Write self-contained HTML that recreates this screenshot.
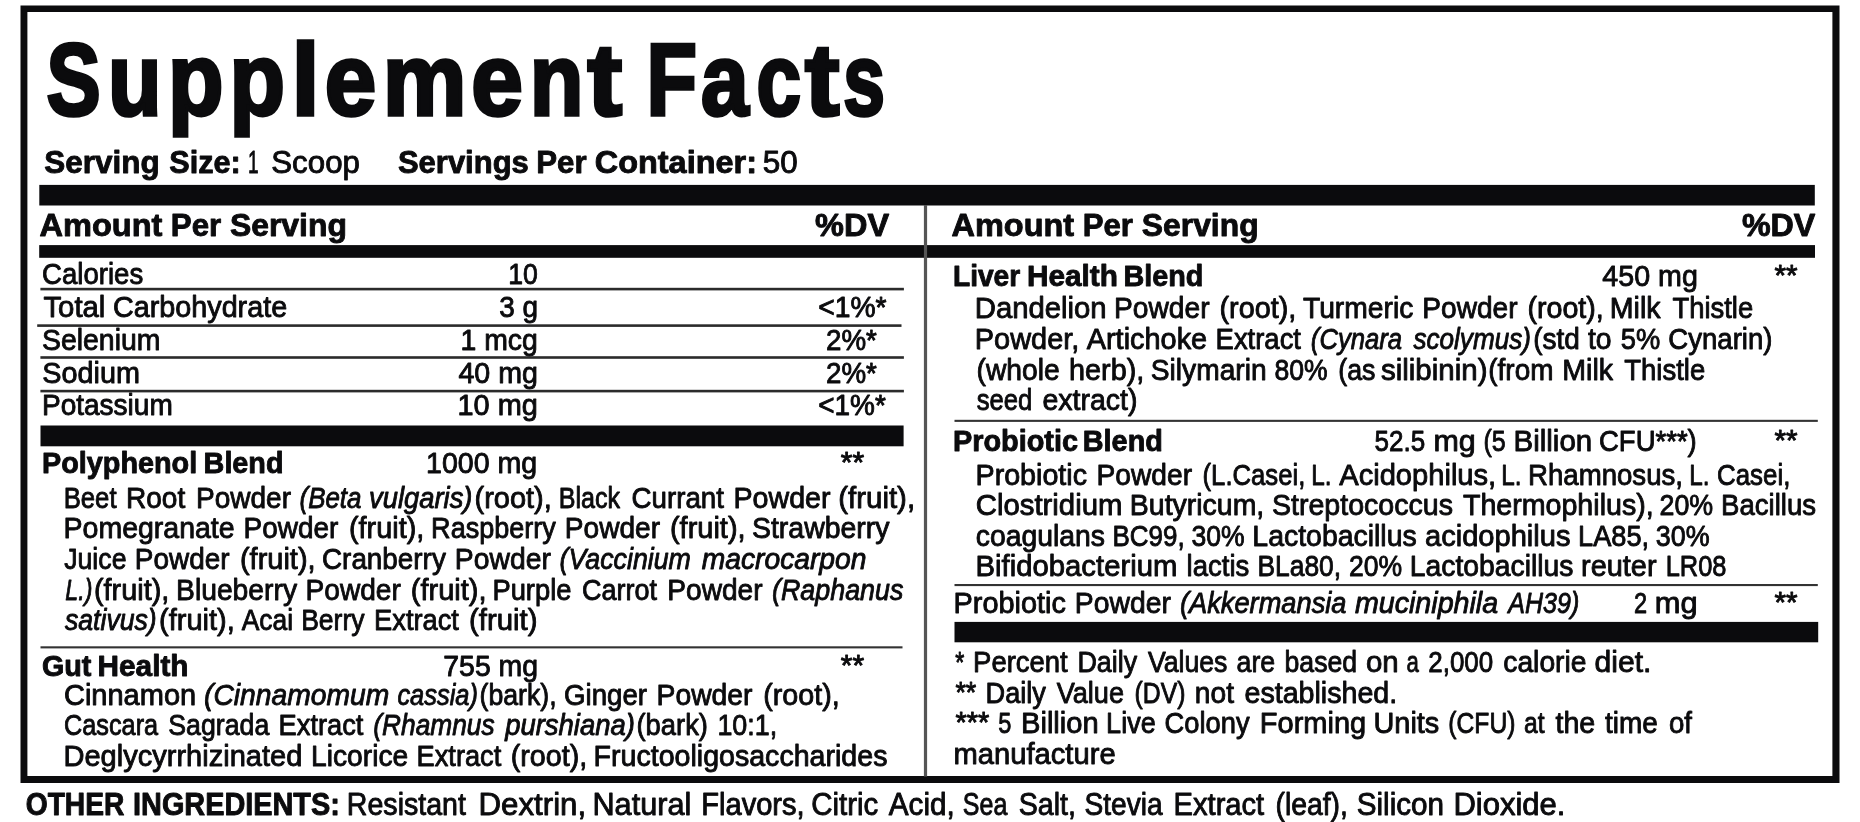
<!DOCTYPE html>
<html lang="en">
<head>
<meta charset="utf-8">
<title>Supplement Facts</title>
<style>
html,body{margin:0;padding:0;background:#fff;}
body{width:1860px;height:822px;overflow:hidden;font-family:"Liberation Sans",sans-serif;}
svg{display:block;will-change:transform;filter:blur(0.45px);}
svg text{font-family:"Liberation Sans",sans-serif;fill:#0b0b0d;stroke:#0b0b0d;white-space:pre;}
svg g{stroke-width:0.9px;stroke-linejoin:round;}
svg path{fill:#0b0b0d;}
svg rect{fill:#0b0b0d;}
</style>
</head>
<body>
<svg width="1860" height="822" viewBox="0 0 1860 822" role="img" aria-label="Supplement Facts label">
<g id="rules">
<path fill-rule="evenodd" d="M20.5 5.4H1839.5V783H20.5Z M27.4 12.1H1832.4V776H27.4Z"/>
<rect x="39.3" y="184.9" width="1775.50" height="20.60"/>
<rect x="39.2" y="245.1" width="1775.80" height="12.70"/>
<rect x="40.5" y="425.5" width="863.10" height="20.80"/>
<rect x="954.5" y="621.9" width="863.70" height="20.40"/>
<rect style="fill:#555" x="923.9" y="205" width="3.20" height="571.50"/>
<rect style="fill:#2b2b2b" x="40.4" y="287.8" width="863.50" height="2.60"/>
<rect style="fill:#2b2b2b" x="37.2" y="324.3" width="864.30" height="2.60"/>
<rect style="fill:#2b2b2b" x="40.4" y="356.2" width="863.50" height="2.60"/>
<rect style="fill:#2b2b2b" x="40.4" y="389.8" width="863.50" height="2.60"/>
<rect style="fill:#333" x="40.5" y="646.3" width="862.00" height="2.10"/>
<rect style="fill:#333" x="954.5" y="419.8" width="863.30" height="2.10"/>
<rect style="fill:#333" x="954.5" y="584" width="863.30" height="2.10"/>
</g>
<g id="copy">
<g font-size="102.8" font-weight="bold" style="stroke-width:3.6px;stroke-linejoin:miter">
<text transform="translate(46.54 115.20) scale(0.7898 1)">S</text>
<text transform="translate(108.12 115.20) scale(0.8535 1)">u</text>
<text transform="translate(167.99 115.20) scale(0.8834 1)">p</text>
<text transform="translate(229.59 115.20) scale(0.8834 1)">p</text>
<text transform="translate(291.58 115.20) scale(0.9839 1)">l</text>
<text transform="translate(324.72 115.20) scale(0.9011 1)">e</text>
<text transform="translate(382.85 115.20) scale(0.9163 1)">m</text>
<text transform="translate(471.31 115.20) scale(0.9030 1)">e</text>
<text transform="translate(529.71 115.20) scale(0.8553 1)">n</text>
<text transform="translate(587.51 115.20) scale(1.0112 1)">t</text>
<text transform="translate(646.62 115.20) scale(0.8038 1)">F</text>
<text transform="translate(701.00 115.20) scale(0.8328 1)">a</text>
<text transform="translate(756.59 115.20) scale(0.7784 1)">c</text>
<text transform="translate(805.00 115.20) scale(1.0056 1)">t</text>
<text transform="translate(843.32 115.20) scale(0.7295 1)">s</text>
</g>
<g font-size="32" font-weight="bold">
<text transform="translate(44.34 172.70) scale(0.9826 1)">Serving</text>
<text transform="translate(169.23 172.70) scale(0.9571 1)">Size:</text>
<text transform="translate(397.94 172.70) scale(0.9684 1)">Servings</text>
<text transform="translate(536.29 172.70) scale(0.9752 1)">Per</text>
<text transform="translate(594.74 172.70) scale(1.0143 1)">Container:</text>
<text transform="translate(39.46 236.10) scale(1.0180 1)">Amount</text>
<text transform="translate(170.79 236.10) scale(0.9772 1)">Per</text>
<text transform="translate(229.95 236.10) scale(0.9963 1)">Serving</text>
<text transform="translate(815.06 236.10) scale(1.0153 1)">%DV</text>
<text transform="translate(951.56 236.10) scale(1.0147 1)">Amount</text>
<text transform="translate(1082.79 236.10) scale(0.9732 1)">Per</text>
<text transform="translate(1141.85 236.10) scale(0.9946 1)">Serving</text>
<text transform="translate(1741.95 236.10) scale(1.0072 1)">%DV</text>
</g>
<g font-size="32">
<text transform="translate(247.97 172.70) scale(0.5975 1)">1</text>
<text transform="translate(271.26 172.70) scale(0.9773 1)">Scoop</text>
<text transform="translate(762.66 172.70) scale(0.9828 1)">50</text>
</g>
<g font-size="30">
<text transform="translate(41.99 284.00) scale(0.9198 1)">Calories</text>
<text transform="translate(508.13 284.00) scale(0.8865 1)">10</text>
<text transform="translate(43.44 316.50) scale(0.9776 1)">Total</text>
<text transform="translate(113.07 316.50) scale(0.9581 1)">Carbohydrate</text>
<text transform="translate(499.29 316.50) scale(0.9319 1)">3 g</text>
<text transform="translate(818.18 316.50) scale(0.9426 1)">&lt;1%*</text>
<text transform="translate(41.98 349.80) scale(0.9477 1)">Selenium</text>
<text transform="translate(460.53 349.80) scale(0.9467 1)">1 mcg</text>
<text transform="translate(825.99 349.80) scale(0.9247 1)">2%*</text>
<text transform="translate(42.27 382.70) scale(0.9610 1)">Sodium</text>
<text transform="translate(458.43 382.70) scale(0.9528 1)">40 mg</text>
<text transform="translate(825.99 382.70) scale(0.9247 1)">2%*</text>
<text transform="translate(41.95 415.00) scale(0.9343 1)">Potassium</text>
<text transform="translate(457.51 415.00) scale(0.9641 1)">10 mg</text>
<text transform="translate(818.19 415.00) scale(0.9316 1)">&lt;1%*</text>
<text transform="translate(426.02 472.80) scale(0.9521 1)">1000 mg</text>
<text transform="translate(63.67 507.70) scale(0.8567 1)">Beet</text>
<text transform="translate(126.05 507.70) scale(0.9343 1)">Root</text>
<text transform="translate(196.05 507.70) scale(0.9341 1)">Powder</text>
<text transform="translate(474.47 507.70) scale(0.9668 1)">(root),</text>
<text transform="translate(558.70 507.70) scale(0.8368 1)">Black</text>
<text transform="translate(631.49 507.70) scale(0.9245 1)">Currant</text>
<text transform="translate(733.52 507.70) scale(0.9540 1)">Powder</text>
<text transform="translate(838.16 507.70) scale(0.9830 1)">(fruit),</text>
<text transform="translate(63.53 538.20) scale(0.9505 1)">Pomegranate</text>
<text transform="translate(243.56 538.20) scale(0.9321 1)">Powder</text>
<text transform="translate(348.97 538.20) scale(0.9619 1)">(fruit),</text>
<text transform="translate(431.10 538.20) scale(0.9018 1)">Raspberry</text>
<text transform="translate(564.85 538.20) scale(0.9361 1)">Powder</text>
<text transform="translate(669.97 538.20) scale(0.9659 1)">(fruit),</text>
<text transform="translate(751.98 538.20) scale(0.9487 1)">Strawberry</text>
<text transform="translate(64.20 568.70) scale(0.8897 1)">Juice</text>
<text transform="translate(134.86 568.70) scale(0.9311 1)">Powder</text>
<text transform="translate(239.97 568.70) scale(0.9659 1)">(fruit),</text>
<text transform="translate(321.99 568.70) scale(0.9289 1)">Cranberry</text>
<text transform="translate(454.84 568.70) scale(0.9441 1)">Powder</text>
<text transform="translate(93.97 599.50) scale(0.9619 1)">(fruit),</text>
<text transform="translate(176.04 599.50) scale(0.9427 1)">Blueberry</text>
<text transform="translate(305.55 599.50) scale(0.9371 1)">Powder</text>
<text transform="translate(410.77 599.50) scale(0.9685 1)">(fruit),</text>
<text transform="translate(492.39 599.50) scale(0.9125 1)">Purple</text>
<text transform="translate(582.01 599.50) scale(0.8997 1)">Carrot</text>
<text transform="translate(667.35 599.50) scale(0.9361 1)">Powder</text>
<text transform="translate(158.97 630.20) scale(0.9685 1)">(fruit),</text>
<text transform="translate(241.70 630.20) scale(0.8803 1)">Acai</text>
<text transform="translate(301.13 630.20) scale(0.8856 1)">Berry</text>
<text transform="translate(374.09 630.20) scale(0.9094 1)">Extract</text>
<text transform="translate(468.96 630.20) scale(0.9797 1)">(fruit)</text>
<text transform="translate(443.28 675.70) scale(0.9483 1)">755 mg</text>
<text transform="translate(63.97 704.70) scale(0.9670 1)">Cinnamon</text>
<text transform="translate(479.51 704.70) scale(0.8903 1)">(bark),</text>
<text transform="translate(563.99 704.70) scale(0.9227 1)">Ginger</text>
<text transform="translate(656.54 704.70) scale(0.9441 1)">Powder</text>
<text transform="translate(763.27 704.70) scale(0.9565 1)">(root),</text>
<text transform="translate(64.04 735.20) scale(0.8425 1)">Cascara</text>
<text transform="translate(168.31 735.20) scale(0.8905 1)">Sagrada</text>
<text transform="translate(278.59 735.20) scale(0.9094 1)">Extract</text>
<text transform="translate(636.50 735.20) scale(0.9126 1)">(bark)</text>
<text transform="translate(717.41 735.20) scale(0.8959 1)">10:1,</text>
<text transform="translate(63.50 765.50) scale(0.9685 1)">Deglycyrrhizinated</text>
<text transform="translate(311.04 765.50) scale(0.9401 1)">Licorice</text>
<text transform="translate(416.59 765.50) scale(0.9072 1)">Extract</text>
<text transform="translate(510.77 765.50) scale(0.9565 1)">(root),</text>
<text transform="translate(593.52 765.50) scale(0.9531 1)">Fructooligosaccharides</text>
<text transform="translate(1602.33 285.70) scale(0.9549 1)">450 mg</text>
<text transform="translate(974.79 318.30) scale(0.9764 1)">Dandelion</text>
<text transform="translate(1114.04 318.30) scale(0.9391 1)">Powder</text>
<text transform="translate(1219.47 318.30) scale(0.9604 1)">(root),</text>
<text transform="translate(1302.92 318.30) scale(0.9423 1)">Turmeric</text>
<text transform="translate(1422.35 318.30) scale(0.9361 1)">Powder</text>
<text transform="translate(1527.48 318.30) scale(0.9539 1)">(root),</text>
<text transform="translate(1609.82 318.30) scale(0.9526 1)">Milk</text>
<text transform="translate(1672.41 318.30) scale(0.9145 1)">Thistle</text>
<text transform="translate(974.81 348.80) scale(0.9641 1)">Powder,</text>
<text transform="translate(1086.73 348.80) scale(0.9635 1)">Artichoke</text>
<text transform="translate(1215.58 348.80) scale(0.9148 1)">Extract</text>
<text transform="translate(1533.29 348.80) scale(0.9331 1)">(std</text>
<text transform="translate(1587.92 348.80) scale(0.9431 1)">to</text>
<text transform="translate(1620.80 348.80) scale(0.9088 1)">5%</text>
<text transform="translate(1668.29 348.80) scale(0.9192 1)">Cynarin)</text>
<text transform="translate(976.48 379.50) scale(0.9419 1)">(whole</text>
<text transform="translate(1069.01 379.50) scale(0.9608 1)">herb),</text>
<text transform="translate(1150.78 379.50) scale(0.9394 1)">Silymarin</text>
<text transform="translate(1274.51 379.50) scale(0.8858 1)">80%</text>
<text transform="translate(1338.31 379.50) scale(0.8922 1)">(as</text>
<text transform="translate(1380.94 379.50) scale(0.9836 1)">silibinin)</text>
<text transform="translate(1488.29 379.50) scale(0.9318 1)">(from</text>
<text transform="translate(1562.32 379.50) scale(0.9526 1)">Milk</text>
<text transform="translate(1624.21 379.50) scale(0.9167 1)">Thistle</text>
<text transform="translate(976.69 410.20) scale(0.8558 1)">seed</text>
<text transform="translate(1042.48 410.20) scale(0.9502 1)">extract)</text>
<text transform="translate(1374.52 450.80) scale(0.8680 1)">52.5</text>
<text transform="translate(1433.43 450.80) scale(1.0157 1)">mg</text>
<text transform="translate(1483.54 450.80) scale(0.8343 1)">(5</text>
<text transform="translate(1513.48 450.80) scale(0.9838 1)">Billion</text>
<text transform="translate(1599.00 450.80) scale(0.9168 1)">CFU***)</text>
<text transform="translate(975.52 485.00) scale(0.9557 1)">Probiotic</text>
<text transform="translate(1096.54 485.00) scale(0.9391 1)">Powder</text>
<text transform="translate(1202.53 485.00) scale(0.8571 1)">(L.Casei,</text>
<text transform="translate(1311.24 485.00) scale(0.8108 1)">L.</text>
<text transform="translate(1339.24 485.00) scale(0.9711 1)">Acidophilus,</text>
<text transform="translate(1501.24 485.00) scale(0.8108 1)">L.</text>
<text transform="translate(1528.07 485.00) scale(0.9201 1)">Rhamnosus,</text>
<text transform="translate(1689.24 485.00) scale(0.8108 1)">L.</text>
<text transform="translate(1717.03 485.00) scale(0.8632 1)">Casei,</text>
<text transform="translate(975.76 515.30) scale(0.9783 1)">Clostridium</text>
<text transform="translate(1129.83 515.30) scale(0.9489 1)">Butyricum,</text>
<text transform="translate(1271.98 515.30) scale(0.9524 1)">Streptococcus</text>
<text transform="translate(1462.93 515.30) scale(0.9540 1)">Thermophilus),</text>
<text transform="translate(1659.51 515.30) scale(0.8942 1)">20%</text>
<text transform="translate(1721.08 515.30) scale(0.9183 1)">Bacillus</text>
<text transform="translate(975.78 545.70) scale(0.9449 1)">coagulans</text>
<text transform="translate(1112.46 545.70) scale(0.8656 1)">BC99,</text>
<text transform="translate(1191.51 545.70) scale(0.8858 1)">30%</text>
<text transform="translate(1252.33 545.70) scale(0.9484 1)">Lactobacillus</text>
<text transform="translate(1424.97 545.70) scale(0.9698 1)">acidophilus</text>
<text transform="translate(1578.09 545.70) scale(0.9071 1)">LA85,</text>
<text transform="translate(1655.81 545.70) scale(0.8976 1)">30%</text>
<text transform="translate(975.49 576.20) scale(0.9772 1)">Bifidobacterium</text>
<text transform="translate(1186.58 576.20) scale(0.9177 1)">lactis</text>
<text transform="translate(1257.44 576.20) scale(0.8805 1)">BLa80,</text>
<text transform="translate(1349.01 576.20) scale(0.8858 1)">20%</text>
<text transform="translate(1409.84 576.20) scale(0.9438 1)">Lactobacillus</text>
<text transform="translate(1581.01 576.20) scale(0.9640 1)">reuter</text>
<text transform="translate(1665.69 576.20) scale(0.8479 1)">LR08</text>
<text transform="translate(953.51 613.00) scale(0.9626 1)">Probiotic</text>
<text transform="translate(1074.84 613.00) scale(0.9441 1)">Powder</text>
<text transform="translate(1634.07 613.00) scale(0.7862 1)">2</text>
<text transform="translate(1654.71 613.00) scale(1.0285 1)">mg</text>
<text transform="translate(973.08 672.30) scale(0.9159 1)">Percent</text>
<text transform="translate(1077.41 672.30) scale(0.8951 1)">Daily</text>
<text transform="translate(1147.90 672.30) scale(0.8892 1)">Values</text>
<text transform="translate(1236.51 672.30) scale(0.8925 1)">are</text>
<text transform="translate(1284.51 672.30) scale(0.8880 1)">based</text>
<text transform="translate(1365.96 672.30) scale(0.9815 1)">on</text>
<text transform="translate(1406.59 672.30) scale(0.7396 1)">a</text>
<text transform="translate(1428.32 672.30) scale(0.8642 1)">2,000</text>
<text transform="translate(1503.28 672.30) scale(0.9419 1)">calorie</text>
<text transform="translate(1594.45 672.30) scale(1.0043 1)">diet.</text>
<text transform="translate(985.60 702.70) scale(0.9042 1)">Daily</text>
<text transform="translate(1056.71 702.70) scale(0.9034 1)">Value</text>
<text transform="translate(1134.55 702.70) scale(0.8256 1)">(DV)</text>
<text transform="translate(1194.85 702.70) scale(0.9377 1)">not</text>
<text transform="translate(1244.48 702.70) scale(0.9545 1)">established.</text>
<text transform="translate(998.37 733.00) scale(0.7862 1)">5</text>
<text transform="translate(1021.00 733.00) scale(0.9708 1)">Billion</text>
<text transform="translate(1106.10 733.00) scale(0.9014 1)">Live</text>
<text transform="translate(1164.50 733.00) scale(0.9112 1)">Colony</text>
<text transform="translate(1259.80 733.00) scale(0.9670 1)">Forming</text>
<text transform="translate(1373.51 733.00) scale(0.9630 1)">Units</text>
<text transform="translate(1448.35 733.00) scale(0.8219 1)">(CFU)</text>
<text transform="translate(1524.05 733.00) scale(0.8208 1)">at</text>
<text transform="translate(1555.43 733.00) scale(0.9542 1)">the</text>
<text transform="translate(1604.92 733.00) scale(0.9316 1)">time</text>
<text transform="translate(1668.99 733.00) scale(0.9185 1)">of</text>
<text transform="translate(953.49 764.20) scale(0.9729 1)">manufacture</text>
</g>
<g font-size="30" font-weight="bold">
<text transform="translate(42.01 472.80) scale(0.9602 1)">Polyphenol</text>
<text transform="translate(203.61 472.80) scale(0.9591 1)">Blend</text>
<text transform="translate(41.97 675.70) scale(0.9581 1)">Gut</text>
<text transform="translate(97.56 675.70) scale(0.9926 1)">Health</text>
<text transform="translate(952.94 285.70) scale(0.9390 1)">Liver</text>
<text transform="translate(1026.96 285.70) scale(0.9915 1)">Health</text>
<text transform="translate(1123.51 285.70) scale(0.9591 1)">Blend</text>
<text transform="translate(952.91 450.80) scale(0.9624 1)">Probiotic</text>
<text transform="translate(1082.81 450.80) scale(0.9603 1)">Blend</text>
</g>
<g font-size="29.75">
<text transform="translate(840.85 472.18) scale(1.0092 1)">**</text>
<text transform="translate(840.85 675.08) scale(1.0092 1)">**</text>
<text transform="translate(1774.45 285.08) scale(0.9969 1)">**</text>
<text transform="translate(1774.45 450.18) scale(0.9969 1)">**</text>
<text transform="translate(1774.45 612.38) scale(0.9969 1)">**</text>
<text transform="translate(955.35 671.68) scale(0.7813 1)">*</text>
<text transform="translate(955.41 702.08) scale(0.9025 1)">**</text>
<text transform="translate(955.44 732.38) scale(0.9735 1)">***</text>
</g>
<g font-size="30" font-style="italic">
<text transform="translate(299.52 507.70) scale(0.8644 1)">(Beta</text>
<text transform="translate(369.00 507.70) scale(0.9129 1)">vulgaris)</text>
<text transform="translate(559.51 568.70) scale(0.8928 1)">(Vaccinium</text>
<text transform="translate(701.72 568.70) scale(0.9413 1)">macrocarpon</text>
<text transform="translate(65.35 599.50) scale(0.7732 1)">L.)</text>
<text transform="translate(772.01 599.50) scale(0.8953 1)">(Raphanus</text>
<text transform="translate(64.90 630.20) scale(0.8889 1)">sativus)</text>
<text transform="translate(203.98 704.70) scale(0.9421 1)">(Cinnamomum</text>
<text transform="translate(397.38 704.70) scale(0.8480 1)">cassia)</text>
<text transform="translate(373.32 735.20) scale(0.8765 1)">(Rhamnus</text>
<text transform="translate(505.13 735.20) scale(0.9161 1)">purshiana)</text>
<text transform="translate(1310.83 348.80) scale(0.8563 1)">(Cynara</text>
<text transform="translate(1413.39 348.80) scale(0.8709 1)">scolymus)</text>
<text transform="translate(1180.00 613.00) scale(0.9080 1)">(Akkermansia</text>
<text transform="translate(1354.93 613.00) scale(0.9548 1)">muciniphila</text>
<text transform="translate(1508.34 613.00) scale(0.8339 1)">AH39)</text>
</g>
<g font-size="31" font-weight="bold">
<text transform="translate(25.70 814.80) scale(0.9101 1)">OTHER</text>
<text transform="translate(133.06 814.80) scale(0.9312 1)">INGREDIENTS:</text>
</g>
<g font-size="31">
<text transform="translate(346.87 814.80) scale(0.9213 1)">Resistant</text>
<text transform="translate(478.44 814.80) scale(1.0088 1)">Dextrin,</text>
<text transform="translate(592.47 814.80) scale(0.9902 1)">Natural</text>
<text transform="translate(701.24 814.80) scale(0.9387 1)">Flavors,</text>
<text transform="translate(811.18 814.80) scale(0.9515 1)">Citric</text>
<text transform="translate(888.73 814.80) scale(0.9583 1)">Acid,</text>
<text transform="translate(962.86 814.80) scale(0.8062 1)">Sea</text>
<text transform="translate(1018.79 814.80) scale(0.9222 1)">Salt,</text>
<text transform="translate(1084.50 814.80) scale(0.9065 1)">Stevia</text>
<text transform="translate(1173.54 814.80) scale(0.9399 1)">Extract</text>
<text transform="translate(1275.50 814.80) scale(0.9147 1)">(leaf),</text>
<text transform="translate(1356.77 814.80) scale(0.9558 1)">Silicon</text>
<text transform="translate(1453.45 814.80) scale(1.0001 1)">Dioxide.</text>
</g>
</g>
</svg>
</body>
</html>
